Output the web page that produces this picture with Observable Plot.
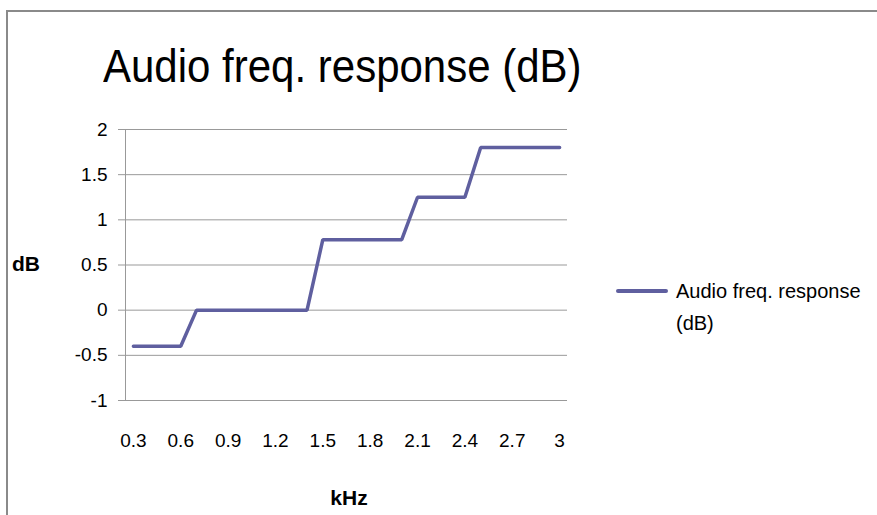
<!DOCTYPE html>
<html>
<head>
<meta charset="utf-8">
<script src="https://cdn.jsdelivr.net/npm/d3@7"></script>
<script src="https://cdn.jsdelivr.net/npm/@observablehq/plot@0.6"></script>
<style>
  html, body { margin: 0; padding: 0; background: #fff; }
  #wrap { position: relative; width: 877px; height: 515px; overflow: hidden; font-family: "Liberation Sans", Arial, sans-serif; color: #000; }
  #border { position: absolute; left: 6px; top: 10px; right: -10px; bottom: -10px; border-left: 2px solid #8a8a8a; border-top: 2px solid #8a8a8a; }
  #title { position: absolute; left: 103px; top: 44px; font-size: 42px; white-space: nowrap; line-height: 1; transform: scaleY(1.08); transform-origin: left top; }
  #ylab { position: absolute; left: 12px; top: 252px; font-size: 21px; font-weight: bold; }
  #xlab { position: absolute; left: 349px; top: 486px; transform: translateX(-50%); font-size: 21px; font-weight: bold; }
  #legend { position: absolute; left: 616px; top: 275px; font-size: 20px; line-height: 32px; }
  #legend .sw { position: absolute; left: 0; top: 14px; width: 52px; height: 4px; border-radius: 2px; background: #5f5f9f; }
  #legend .tx { position: absolute; left: 60px; top: 0; width: 220px; }
  #chart { position: absolute; left: 0; top: 0; }
</style>
</head>
<body>
<div id="wrap">
  <div id="border"></div>
  <div id="title">Audio freq. response (dB)</div>
  <div id="ylab">dB</div>
  <div id="xlab">kHz</div>
  <div id="legend"><div class="sw"></div><div class="tx">Audio freq. response<br>(dB)</div></div>
  <div id="chart"></div>
</div>
<script>
const seriesName = "Audio freq. response (dB)";
const freqs = [0.3, 0.4, 0.5, 0.6, 0.7, 0.8, 0.9, 1.0, 1.1, 1.2, 1.3, 1.4, 1.5, 1.6,
               1.7, 1.8, 1.9, 2.0, 2.1, 2.2, 2.3, 2.4, 2.5, 2.6, 2.7, 2.8, 2.9, 3.0];
const dbValues = [-0.4, -0.4, -0.4, -0.4, 0, 0, 0, 0, 0, 0, 0, 0, 0.78, 0.78,
                  0.78, 0.78, 0.78, 0.78, 1.25, 1.25, 1.25, 1.25, 1.8, 1.8, 1.8, 1.8, 1.8, 1.8];
const xTickLabels = [0.3, 0.6, 0.9, 1.2, 1.5, 1.8, 2.1, 2.4, 2.7, 3.0];
const yTicks = [-1, -0.5, 0, 0.5, 1, 1.5, 2];

const data = freqs.map((f, i) => ({f, v: dbValues[i]}));
const lineColor = "#5f5f9f";

const chart = Plot.plot({
  width: 877,
  height: 515,
  marginLeft: 125,
  marginRight: 310,
  marginTop: 129,
  marginBottom: 115,
  style: {fontFamily: "'Liberation Sans', Arial, sans-serif", fontSize: "19px", color: "#000", background: "transparent"},
  x: {type: "point", domain: freqs, padding: 0.5, round: false},
  y: {domain: [-1, 2]},
  marks: [
    Plot.gridY(yTicks, {stroke: "#999", strokeOpacity: 1, strokeWidth: 1}),
    Plot.frame({anchor: "left", stroke: "#999", strokeWidth: 1}),
    Plot.axisY(yTicks, {tickSize: 7, tickPadding: 11, stroke: "#999", tickFormat: d => String(d), label: null, fill: "#000", fontSize: 19}),
    Plot.axisX(xTickLabels, {tickSize: 0, tickPadding: 33, tickFormat: d => String(d), label: null, fill: "#000", fontSize: 19}),
    Plot.line(data, {x: "f", y: "v", stroke: lineColor, strokeWidth: 3.5, strokeLinejoin: "miter", strokeLinecap: "round"})
  ]
});
document.getElementById("chart").appendChild(chart);
</script>
</body>
</html>
